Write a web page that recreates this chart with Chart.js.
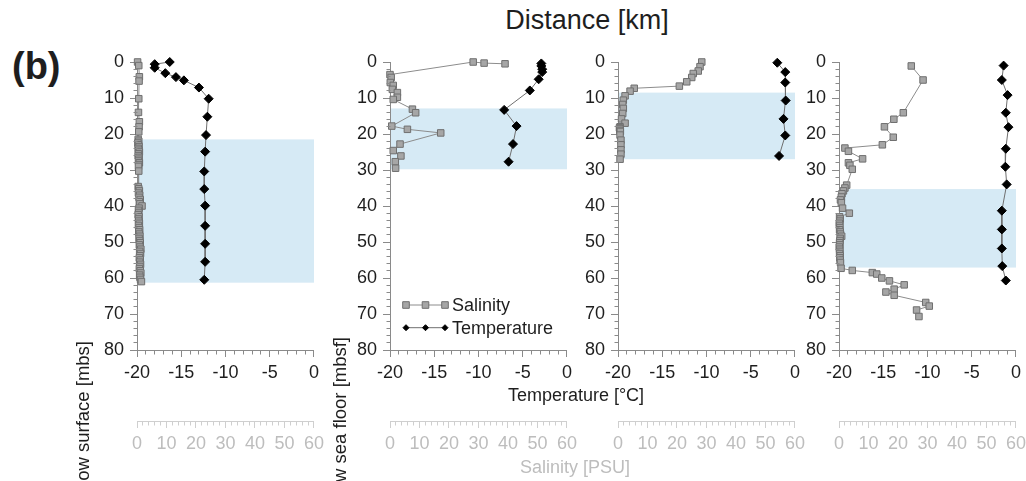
<!DOCTYPE html>
<html>
<head>
<meta charset="utf-8">
<script src="https://cdn.jsdelivr.net/npm/chart.js@4.4.1/dist/chart.umd.min.js"></script>
<style>
  html, body { margin: 0; padding: 0; background: #fff; overflow: hidden; }
  #fig { position: relative; width: 1026px; height: 481px; overflow: hidden;
         font-family: 'Liberation Sans', Arial, sans-serif; color: #1e1e1e; }
  #fig canvas { position: absolute; left: 0; top: 0; }
  .txt { position: absolute; white-space: nowrap; line-height: 1; }
  .center { transform: translate(-50%, -50%); }
  .ytitle { left: 0; top: 0; width: 400px; text-align: right; font-size: 18.5px;
            transform-origin: 0 0; }
</style>
</head>
<body>
<div id="fig">
  <canvas id="panel1" width="254" height="441"></canvas>
  <canvas id="panel2" width="254" height="441"></canvas>
  <canvas id="panel3" width="254" height="441"></canvas>
  <canvas id="panel4" width="254" height="441"></canvas>

  <div class="txt" style="left:12px; top:47px; font-size:38px; font-weight:bold;">(b)</div>
  <div class="txt center" style="left:587px; top:20px; font-size:27px;">Distance [km]</div>
  <div class="txt center" style="left:576px; top:395px; font-size:18px;">Temperature [°C]</div>
  <div class="txt center" style="left:575px; top:467px; font-size:18px; color:#bdbdbd;">Salinity [PSU]</div>
  <div class="txt ytitle" style="transform: translate(74px, 741px) rotate(-90deg);">Depth below surface [mbs]</div>
  <div class="txt ytitle" style="transform: translate(331px, 737px) rotate(-90deg);">Depth below sea floor [mbsf]</div>
</div>

<script>
// Axis ranges
const tempRange = [-20, 0];
const salinityRange = [0, 60];
const depthRange = [0, 80];

// Profile 1
const tempDepth1 = [0, 0.6, 1.6, 3.1, 4.2, 5.1, 7.1, 10.2, 15.2, 20.3, 24.9, 30.4, 35.3, 39.9, 45.5, 50.5, 55.5, 60.5];
const temp1 = [-16.3, -18.0, -18.0, -16.8, -15.6, -14.7, -13.0, -11.9, -12.05, -12.2, -12.3, -12.4, -12.4, -12.3, -12.3, -12.3, -12.3, -12.4];
const salDepth1 = [0, 1, 4.1, 5.3, 10.2, 14, 16.6, 18, 19.4,
  21.5, 22, 22.5, 23, 23.5, 24, 24.5, 25, 25.5, 26, 26.5, 27, 27.5, 28, 28.5, 29,
  30.3, 34.6,
  35.2, 35.8, 36.4, 37, 37.6, 38.2, 38.8, 39.4, 40, 40.6, 41.2, 41.8, 42.4, 43, 43.6, 44.2, 44.8, 45.4, 46, 46.6, 47.2, 47.8,
  48.4, 49, 49.6, 50.2, 50.8, 51.4, 52, 52.6, 53.2, 53.8, 54.4, 55, 55.6, 56.2, 56.8, 57.4, 58, 58.6, 59.2, 59.8, 60.4, 61];
const sal1 = [0.2, 0.6, 0.8, 0.7, 0.6, 0.5, 0.8, 0.7, 0.6,
  0.4, 0.6, 0.3, 0.5, 0.7, 0.4, 0.6, 0.8, 0.5, 0.4, 0.7, 0.6, 0.5, 0.8, 0.6, 0.5,
  0.6, 0.4,
  0.6, 0.8, 0.5, 0.9, 0.7, 1.1, 0.8, 1.0, 1.7, 0.7, 0.5, 0.6, 0.4, 0.7, 0.5, 0.6, 0.8, 0.5, 0.7, 0.9, 0.6, 0.8,
  1.0, 0.7, 0.9, 1.1, 0.8, 1.0, 1.3, 0.9, 1.2, 1.0, 0.8, 1.1, 0.9, 1.2, 1.0, 0.8, 1.1, 1.3, 0.9, 1.0, 1.2, 1.5];
const band1 = [21.5, 61.3];

// Profile 2
const tempDepth2 = [0.4, 1.1, 2.0, 2.8, 4.8, 7.9, 13.3, 17.8, 22.8, 27.7];
const temp2 = [-2.9, -2.9, -2.8, -2.8, -3.2, -4.2, -7.1, -5.7, -6.1, -6.6];
const salDepth2 = [0.5, 0.3, 0, 3.5, 4.3, 5.7, 6.5, 7.6, 8.5, 9.8, 10.4, 13.1, 14.1, 17.8, 18.7, 19.7, 22.8, 24.6, 26.1, 27.7, 29.5];
const sal2 = [39.0, 31.9, 28.2, 0.0, 0.4, 0.1, 1.1, 0.8, 2.5, 2.5, 1.1, 7.6, 8.7, 0.6, 5.9, 17.2, 3.4, 1.1, 3.7, 1.8, 1.9];
const band2 = [12.9, 29.8];

// Profile 3
const tempDepth3 = [0.2, 2.8, 5.7, 10.7, 15.8, 20.4, 26.1];
const temp3 = [-2.0, -1.1, -1.1, -1.05, -1.3, -1.1, -1.8];
const salDepth3 = [0, 1.3, 2.5, 3.2, 4.3, 5.5, 6.7, 7.3, 8.1, 9.4, 10.6, 11.8, 12.9, 14.3, 15.8, 17.0, 18.0, 18.3, 18.6, 19.0, 19.3, 20.3, 21.7, 23.0, 24.4, 25.6, 27.0];
const sal3 = [28.4, 27.8, 27.2, 25.5, 25.0, 23.3, 20.8, 5.5, 4.1, 2.4, 1.8, 1.6, 1.8, 1.6, 1.2, 2.4, 0.7, 0.5, 0.7, 0.6, 0.8, 0.7, 1.0, 1.0, 1.0, 1.0, 0.7];
const band3 = [8.5, 27.0];

// Profile 4
const tempDepth4 = [1.0, 5.0, 9.2, 14.1, 18.1, 24.1, 29.1, 34.0, 41.3, 46.5, 51.8, 56.7, 60.7];
const temp4 = [-1.4, -1.6, -0.95, -1.15, -0.85, -1.15, -1.2, -1.05, -1.6, -1.6, -1.6, -1.55, -1.15];
const salDepth4 = [1.1, 5.0, 14.1, 15.9, 18.0, 20.9, 23.0, 23.9, 24.8, 26.9, 28.0, 28.7, 29.8,
  34.2, 35.0, 35.8, 36.6, 37.5, 38.3, 39.1, 40.6, 42.0,
  43.0, 43.6, 44.2, 44.8, 45.4, 46.0, 46.6, 47.2, 47.8, 48.4, 49.0, 49.6, 50.2, 50.8, 51.4, 52.0, 52.6, 53.2, 53.8, 54.4, 55.0,
  55.7, 57.3, 57.9, 58.5, 58.9, 60.0, 60.8, 61.9, 63.1, 63.9, 64.8, 66.8, 67.8, 68.9, 70.7];
const sal4 = [24.5, 28.5, 21.8, 18.6, 15.4, 18.4, 14.7, 2.0, 3.2, 8.0, 3.2, 3.7, 4.5,
  2.6, 2.0, 1.5, 1.0, 0.8, 0.5, 0.8, 1.2, 3.5,
  0.2, 0.4, 0.3, 0.1, 0.2, 0.3, 0.2, 0.4, 0.5, 0.9, 0.4, 0.3, 0.2, 0.3, 0.1, 0.2, 0.3, 0.2, 0.4, 0.3, 0.4,
  0.5, 0.7, 4.5, 11.3, 12.8, 14.5, 17.1, 22.1, 18.7, 15.9, 18.7, 29.4, 30.6, 26.3, 27.1];
const band4 = [35.3, 57.1];

const seriesLabels = ['Salinity', 'Temperature'];

Chart.defaults.font.family = "'Liberation Sans', Arial, sans-serif";
Chart.defaults.font.size = 18;

// Plot frame of every panel: left edge of each plot, common top, plot size
const panelLeft = [137, 390, 618, 839];
const PLOT_TOP = 62, PLOT_W = 177, PLOT_H = 288;

const AXIS = '#8a8a8a';
const SAL_AXIS = '#cfcfcf';
const INK = '#1e1e1e';
const SAL_INK = '#bdbdbd';
const BAND = '#d6eaf5';

const salStyle = { line: '#8c8c8c', fill: '#a6a6a6', edge: '#6f6f6f' };
const tempStyle = { line: '#6f6f6f', fill: '#000000', edge: '#000000' };

function toPoints(depths, values) {
  return depths.map((d, i) => ({ x: values[i], y: d }));
}

function crisp(v) { return Math.round(v - 0.5) + 0.5; }

// Short unlabelled ticks between the labelled ones
function minorTicks(ctx, scale, from, to, step, major, horizontal, color) {
  ctx.save();
  ctx.strokeStyle = color;
  ctx.lineWidth = 1;
  ctx.beginPath();
  for (let v = from; v <= to + 1e-9; v += step) {
    if (Math.abs(v / major - Math.round(v / major)) < 1e-6) continue;
    const p = crisp(scale.getPixelForValue(v));
    if (horizontal) {
      const y0 = crisp(scale.top);
      ctx.moveTo(p, y0);
      ctx.lineTo(p, y0 + 4);
    } else {
      const x0 = crisp(scale.right);
      ctx.moveTo(x0 - 4, p);
      ctx.lineTo(x0, p);
    }
  }
  ctx.stroke();
  ctx.restore();
}

function marker(ctx, kind, x, y, r, st) {
  ctx.beginPath();
  if (kind === 'rect') {
    ctx.rect(x - r, y - r, 2 * r, 2 * r);
  } else {
    ctx.moveTo(x - r, y); ctx.lineTo(x, y - r); ctx.lineTo(x + r, y); ctx.lineTo(x, y + r); ctx.closePath();
  }
  ctx.fillStyle = st.fill;
  ctx.fill();
  ctx.strokeStyle = st.edge;
  ctx.lineWidth = 1;
  ctx.stroke();
}

function profilePlugin(band, withLegend) {
  return {
    id: 'profileDecor',
    beforeDraw(chart) {
      const { ctx, scales } = chart;
      const xl = scales.x.getPixelForValue(tempRange[0]);
      const xr = scales.x.getPixelForValue(tempRange[1]);
      const yt = scales.y.getPixelForValue(band[0]);
      const yb = scales.y.getPixelForValue(band[1]);
      ctx.save();
      ctx.fillStyle = BAND;
      ctx.fillRect(xl, yt, xr - xl, yb - yt);
      ctx.restore();
    },
    afterDraw(chart) {
      const { ctx, scales, chartArea } = chart;
      minorTicks(ctx, scales.x, tempRange[0], tempRange[1], 1, 5, true, AXIS);
      minorTicks(ctx, scales.xs, salinityRange[0], salinityRange[1], 2, 10, true, SAL_AXIS);
      minorTicks(ctx, scales.y, depthRange[0], depthRange[1], 2, 10, false, AXIS);
      if (!withLegend) return;
      const styles = [salStyle, tempStyle];
      const kinds = ['rect', 'diamond'];
      const sizes = [3.3, 3];
      ctx.save();
      seriesLabels.forEach((label, i) => {
        const y = chartArea.top + 243 + i * 22.7;
        const xs = [chartArea.left + 16, chartArea.left + 35.5, chartArea.left + 55];
        ctx.strokeStyle = styles[i].line;
        ctx.lineWidth = 1;
        ctx.beginPath();
        ctx.moveTo(xs[0], y); ctx.lineTo(xs[2], y);
        ctx.stroke();
        xs.forEach(x => marker(ctx, kinds[i], x, y, sizes[i], styles[i]));
        ctx.fillStyle = INK;
        ctx.font = "18px 'Liberation Sans', Arial, sans-serif";
        ctx.textBaseline = 'middle';
        ctx.textAlign = 'left';
        ctx.fillText(label, chartArea.left + 62, y + 1);
      });
      ctx.restore();
    }
  };
}

function makePanel(id, tDepth, tVal, sDepth, sVal, band, withLegend) {
  return new Chart(document.getElementById(id), {
    type: 'scatter',
    data: {
      datasets: [
        {
          label: seriesLabels[1],
          data: toPoints(tDepth, tVal),
          xAxisID: 'x', yAxisID: 'y',
          showLine: true, clip: false,
          borderColor: tempStyle.line, borderWidth: 1,
          pointStyle: 'rectRot', pointRadius: 4.5,
          pointBackgroundColor: tempStyle.fill, pointBorderColor: tempStyle.edge, pointBorderWidth: 1
        },
        {
          label: seriesLabels[0],
          data: toPoints(sDepth, sVal),
          xAxisID: 'xs', yAxisID: 'y',
          showLine: true, clip: false,
          borderColor: salStyle.line, borderWidth: 1,
          pointStyle: 'rect', pointRadius: 4.6,
          pointBackgroundColor: salStyle.fill, pointBorderColor: salStyle.edge, pointBorderWidth: 1
        }
      ]
    },
    options: {
      responsive: false,
      maintainAspectRatio: false,
      animation: false,
      events: [],
      layout: { padding: { top: 20, right: 10, bottom: 15, left: 0 } },
      plugins: { legend: { display: false }, tooltip: { enabled: false } },
      scales: {
        x: {
          type: 'linear', position: 'bottom', weight: 0,
          min: tempRange[0], max: tempRange[1],
          afterFit(s) { s.height = 71; },
          ticks: { stepSize: 5, color: INK, padding: 5, maxRotation: 0, autoSkip: false },
          grid: { drawOnChartArea: false, drawTicks: true, tickLength: 7, color: AXIS, tickColor: AXIS },
          border: { display: true, color: AXIS, width: 1 }
        },
        xs: {
          type: 'linear', position: 'bottom', weight: 1,
          min: salinityRange[0], max: salinityRange[1],
          afterFit(s) { s.height = 45; },
          ticks: { stepSize: 10, color: SAL_INK, padding: 5, maxRotation: 0, autoSkip: false },
          grid: { drawOnChartArea: false, drawTicks: true, tickLength: 7, color: SAL_AXIS, tickColor: SAL_AXIS },
          border: { display: true, color: SAL_AXIS, width: 1 }
        },
        y: {
          type: 'linear', position: 'left', reverse: true,
          min: depthRange[0], max: depthRange[1],
          afterFit(s) { s.width = 60; },
          ticks: { stepSize: 10, color: INK, padding: 6, autoSkip: false },
          grid: { drawOnChartArea: false, drawTicks: true, tickLength: 7, color: AXIS, tickColor: AXIS },
          border: { display: true, color: AXIS, width: 1 }
        }
      }
    },
    plugins: [profilePlugin(band, withLegend)]
  });
}

// Size each canvas so its plot frame has the common size, then place it
function placePanel(chart, x0) {
  for (let k = 0; k < 4; k++) {
    const a = chart.chartArea;
    const dw = PLOT_W - (a.right - a.left);
    const dh = PLOT_H - (a.bottom - a.top);
    if (Math.abs(dw) < 0.5 && Math.abs(dh) < 0.5) break;
    chart.resize(Math.round(chart.width + dw), Math.round(chart.height + dh));
  }
  chart.canvas.style.left = Math.round(x0 - chart.chartArea.left) + 'px';
  chart.canvas.style.top = Math.round(PLOT_TOP - chart.chartArea.top) + 'px';
}

const panels = [
  makePanel('panel1', tempDepth1, temp1, salDepth1, sal1, band1, false),
  makePanel('panel2', tempDepth2, temp2, salDepth2, sal2, band2, true),
  makePanel('panel3', tempDepth3, temp3, salDepth3, sal3, band3, false),
  makePanel('panel4', tempDepth4, temp4, salDepth4, sal4, band4, false)
];
panels.forEach((c, i) => placePanel(c, panelLeft[i]));
</script>
</body>
</html>
